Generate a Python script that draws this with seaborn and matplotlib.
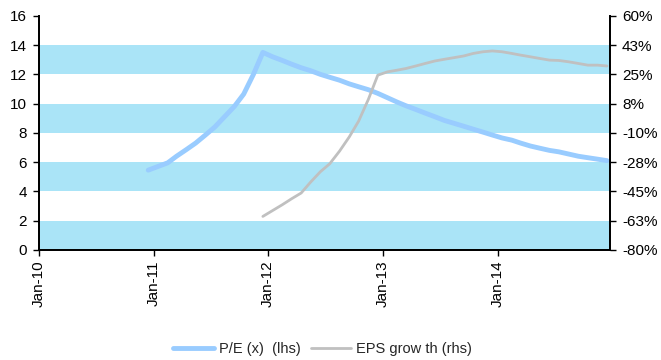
#P/E (x) vs EPS growth - dual axis line chart
import pandas as pd
import matplotlib
matplotlib.use('Agg')
import matplotlib.pyplot as plt
import matplotlib.dates as mdates
import seaborn as sns

#Dados (mensais, meio do mes)
pe_datas = pd.date_range('2010-12-01', '2014-12-01', freq='MS') + pd.Timedelta(days=14)
pe_valores = [5.45, 5.7, 5.95, 6.4, 6.85, 7.3, 7.85, 8.4, 9.1, 9.8, 10.65, 12.0, 13.5,
              13.2, 12.95, 12.7, 12.45, 12.25, 12.0, 11.8, 11.6, 11.35, 11.15, 10.95,
              10.7, 10.4, 10.1, 9.85, 9.6, 9.35, 9.1, 8.85, 8.65, 8.45, 8.25, 8.05,
              7.85, 7.65, 7.5, 7.3, 7.1, 6.95, 6.8, 6.7, 6.55, 6.4, 6.3, 6.2, 6.1]

eps_datas = pd.date_range('2011-12-01', '2014-12-01', freq='MS') + pd.Timedelta(days=14)
eps_valores = [-60, -56.5, -53, -49.5, -46, -39.5, -33.3, -28.5, -21, -12.5, -3, 10,
               24.5, 26.5, 27.5, 28.5, 30, 31.5, 33, 34, 35, 36, 37.5, 38.5, 39,
               38.5, 37.5, 36.5, 35.5, 34.5, 33.5, 33.3, 32.5, 31.5, 30.5, 30.5, 30]

ticks_esq = [0, 2, 4, 6, 8, 10, 12, 14, 16]
ticks_dir = [-80, -62.5, -45, -27.5, -10, 7.5, 25, 42.5, 60]
labels_dir = ['-80%', '-63%', '-45%', '-28%', '-10%', '8%', '25%', '43%', '60%']
faixas = [(0, 2), (4, 6), (8, 10), (12, 14)]

df_pe = pd.DataFrame({'Data': pe_datas, 'PE': pe_valores})
df_eps = pd.DataFrame({'Data': eps_datas, 'EPS': eps_valores})

sns.set_style('white')
plt.rcParams['font.family'] = ['Liberation Sans', 'DejaVu Sans']

fig = plt.figure(figsize = (6.61, 3.6), dpi = 100)
ax = fig.add_axes([0.059, 0.306, 0.864, 0.65])
ax2 = ax.twinx()

for a, b in faixas:
    ax.axhspan(a, b, color = '#aae4f7', lw = 0, zorder = 0)

sns.lineplot(data = df_pe, x = 'Data', y = 'PE', ax = ax, color = '#99ccff',
             lw = 3.5, label = 'P/E (x)  (lhs)', legend = False, zorder = 3)
sns.lineplot(data = df_eps, x = 'Data', y = 'EPS', ax = ax2, color = '#c0c0c0',
             lw = 2, label = 'EPS grow th (rhs)', legend = False, zorder = 3)

ax.set_xlim(pd.Timestamp('2010-01-01'), pd.Timestamp('2014-12-25'))
ax.set_ylim(0, 16)
ax2.set_ylim(-80, 60)
ax.set_yticks(ticks_esq)
ax2.set_yticks(ticks_dir)
ax2.set_yticklabels(labels_dir)

ax.xaxis.set_major_locator(mdates.YearLocator())
ax.xaxis.set_major_formatter(mdates.DateFormatter('%b-%y'))
plt.setp(ax.get_xticklabels(), rotation = 90)

ax.set_xlabel('')
ax.set_ylabel('')
ax2.set_ylabel('')

for a in (ax, ax2):
    a.spines['top'].set_visible(False)
    for s in ('left', 'right', 'bottom'):
        a.spines[s].set_color('black')
        a.spines[s].set_linewidth(1.3)
    a.tick_params(axis = 'both', direction = 'out', length = 4.5, width = 1,
                  colors = 'black', labelsize = 11, pad = 4)
ax.tick_params(left = True, bottom = True)
ax.tick_params(axis = 'x', pad = 3)
ax2.tick_params(right = True)

h1, l1 = ax.get_legend_handles_labels()
h2, l2 = ax2.get_legend_handles_labels()
fig.legend(h1 + h2, l1 + l2, loc = 'center', bbox_to_anchor = (0.488, 0.03),
           ncol = 2, frameon = False, fontsize = 10.5, handlelength = 2.75,
           columnspacing = 0.7, handletextpad = 0.35)

plt.savefig('out.png', dpi = 100)
